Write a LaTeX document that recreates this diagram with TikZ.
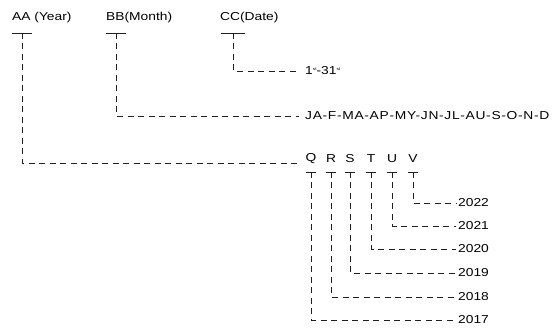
\documentclass[tikz,border=0pt]{standalone}
\usepackage{fontspec}
\setmainfont[FakeStretch=1.2]{Liberation Sans}
\usepackage{tikz}
\usetikzlibrary{calc}
\definecolor{codegray}{RGB}{35,31,32}
\def\ord{\raisebox{4.5pt}{\fontsize{4}{4}\selectfont st}}

\begin{document}
\begin{tikzpicture}[ x=1pt, y=-1pt,
      code line/.style={line width=0.95pt, color=codegray},
      dashed line/.style={code line, dash pattern=on 6pt off 4.5pt},
      every node/.style={color=black, inner sep=0pt, font=\fontsize{11.5}{13}\selectfont},
      field/.style={anchor=west}
      ]
      \useasboundingbox (0,0) rectangle (555,328);

      % fields
      \node[field] (Year) at (12,18) {AA (Year)};
      \node[field] (Month) at (106,18) {BB(Month)};
      \node[field] (Date) at (220,18) {CC(Date)};
      \coordinate (YearT) at (22,33);
      \coordinate (MonthT) at (116,33);
      \coordinate (DateT) at (233,33);
      \draw[code line] ($(YearT)+(-10,0)$) -- ($(YearT)+(10,0)$);
      \draw[code line] ($(MonthT)+(-10,0)$) -- ($(MonthT)+(10,0)$);
      \draw[code line] ($(DateT)+(-12,0)$) -- ($(DateT)+(12,0)$);

      % date and month
      \node[field] (Days) at (305,71) {1\ord-31\ord};
      \draw[dashed line] (DateT) |- ($(Days.west)+(-5,0)$);
      \node[field] (MonthList) at (305,116) {\addfontfeature{LetterSpace=6}JA-F-MA-AP-MY-JN-JL-AU-S-O-N-D};
      \draw[dashed line] (MonthT) |- ($(MonthList.west)+(-6,0)$);

      % year codes
      \foreach \code/\x/\y/\yr in {Q/311/320/2017, R/331/297/2018, S/350/273/2019,
                                    T/371/249/2020, U/392/226/2021, V/413/203/2022}{
        \node (\code) at (\x,159) {\code};
        \coordinate (\code bar) at (\x,172);
        \draw[code line] ($(\code bar)+(-5,0)$) -- ($(\code bar)+(5,0)$);
        \node[field] (Y\yr) at (458,\y) {\yr};
        \draw[dashed line] (\code bar) |- ($(Y\yr.west)+(-2,0)$);
      }
      \draw[dashed line] (YearT) |- ($(Q.west)+(-8,4)$);
    \end{tikzpicture}
\end{document}
